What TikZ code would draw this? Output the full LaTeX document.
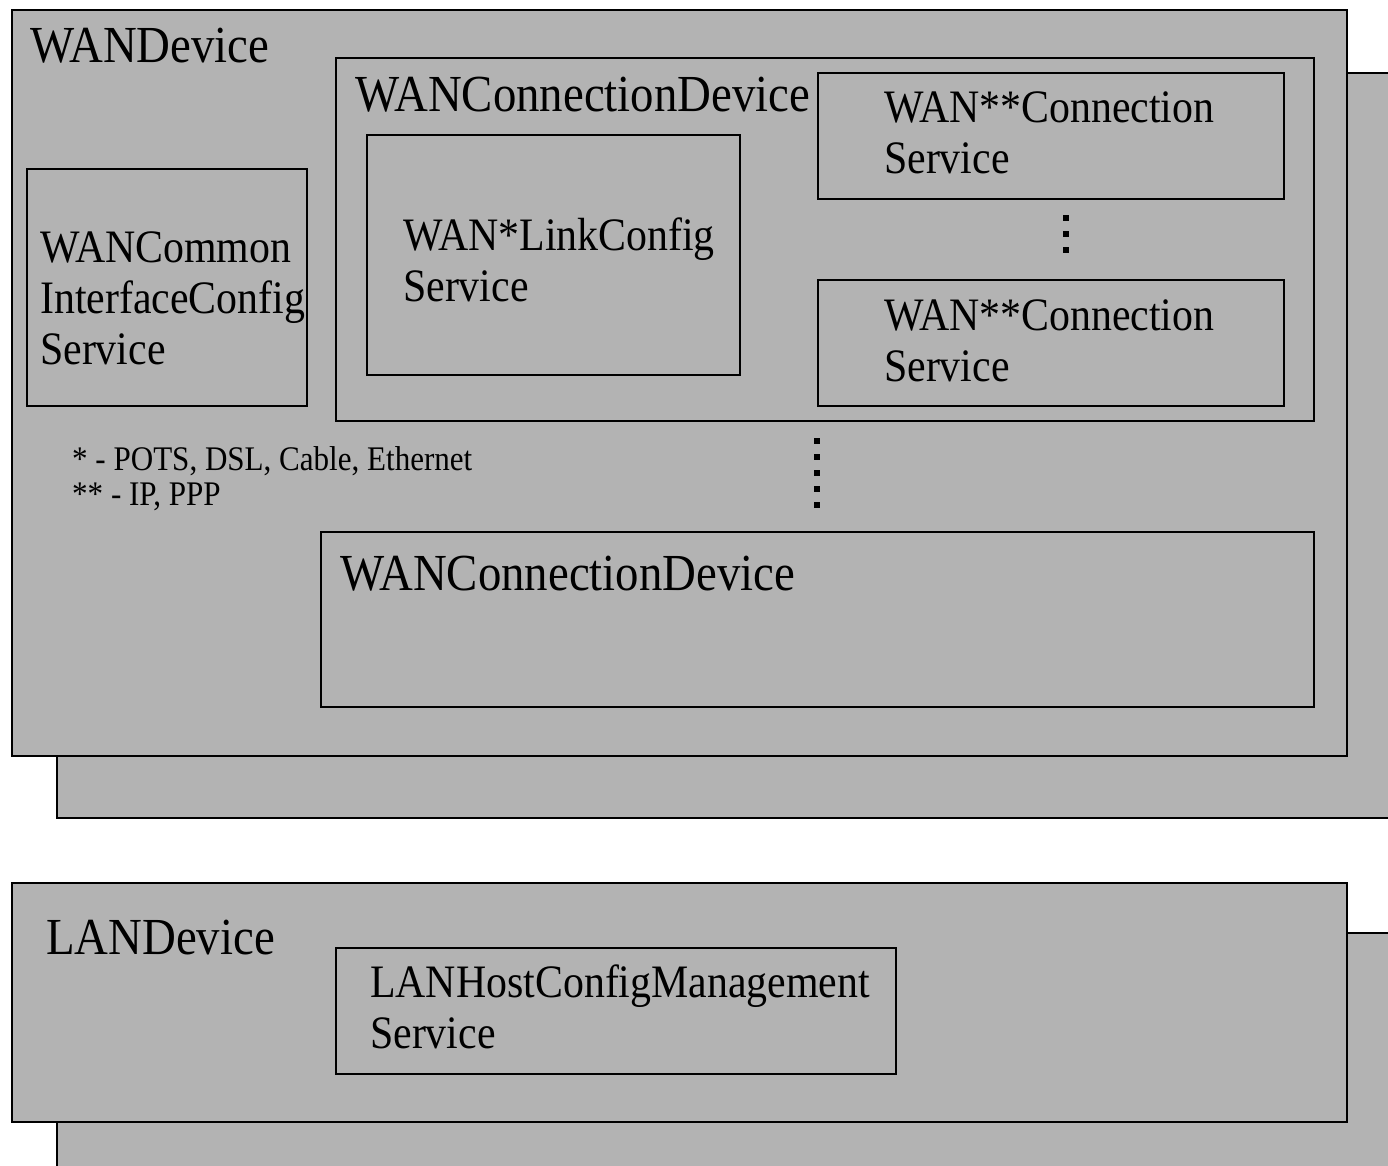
\documentclass[tikz,border=0pt]{standalone}
\usepackage{fontspec}
\setmainfont[FakeStretch=0.9]{Liberation Serif}
\definecolor{panel}{HTML}{B3B3B3}
\tikzset{
  box/.style={draw=black, fill=panel, line width=2pt, inner sep=0pt, anchor=north west},
  devlabel/.style={anchor=base west, inner sep=0pt, font=\fontsize{52}{52}\selectfont},
  svclabel/.style={anchor=base west, inner sep=0pt, align=left, font=\fontsize{46.5}{51}\selectfont},
  notelabel/.style={anchor=base west, inner sep=0pt, align=left, font=\fontsize{34.5}{35}\selectfont},
  dot/.style={fill=black, minimum size=5.5pt, inner sep=0pt, draw=none}
}
\newcommand{\boxat}[5]{% name, x1, y1, x2, y2
  \pgfmathsetmacro{\bw}{#4-#2}\pgfmathsetmacro{\bh}{#5-#3}%
  \node[box, minimum width=\bw pt, minimum height=\bh pt] (#1) at (#2,#3) {};}
% multi-line labels are placed by the baseline of their last line
\begin{document}
\begin{tikzpicture}[x=1pt,y=-1pt]
\useasboundingbox (0,0) rectangle (1388,1166);
\clip (0,0) rectangle (1388,1166);
% WAN device stack
\boxat{wanback}{56}{72}{1420}{817}
\boxat{wandev}{11}{9}{1346}{755}
\node[devlabel] (wandevlbl) at (30,63) {WANDevice};
% common interface config service
\boxat{commonsvc}{26}{168}{306}{405}
\node[svclabel] (commonlbl) at (40,364) {WANCommon\\InterfaceConfig\\Service};
% first connection device
\boxat{conndev}{335}{57}{1313}{420}
\node[devlabel] (conndevlbl) at (355,112) {WANConnectionDevice};
\boxat{linksvc}{366}{134}{739}{374}
\node[svclabel] (linklbl) at (403,301) {WAN*LinkConfig\\Service};
\boxat{connsvcA}{817}{72}{1283}{198}
\node[svclabel] (connAlbl) at (884,174) {WAN**Connection\\Service};
\boxat{connsvcB}{817}{279}{1283}{405}
\node[svclabel] (connBlbl) at (884,381) {WAN**Connection\\Service};
\foreach \y [count=\i] in {218,234,250}
  \node[dot] (svcdot\i) at (1066,\y) {};
% footnote
\node[notelabel] (notes) at (72,505) {* - POTS, DSL, Cable, Ethernet\\** - IP, PPP};
\foreach \y [count=\i] in {441,457,473,489,505}
  \node[dot] (devdot\i) at (817,\y) {};
% second connection device
\boxat{conndevB}{320}{531}{1313}{706}
\node[devlabel] (conndevBlbl) at (340,590) {WANConnectionDevice};
% LAN device stack
\boxat{lanback}{56}{932}{1420}{1200}
\boxat{landev}{11}{882}{1346}{1121}
\node[devlabel] (landevlbl) at (46,954) {LANDevice};
\boxat{hostsvc}{335}{947}{895}{1073}
\node[svclabel] (hostlbl) at (370,1048) {LANHostConfigManagement\\Service};
\end{tikzpicture}
\end{document}
